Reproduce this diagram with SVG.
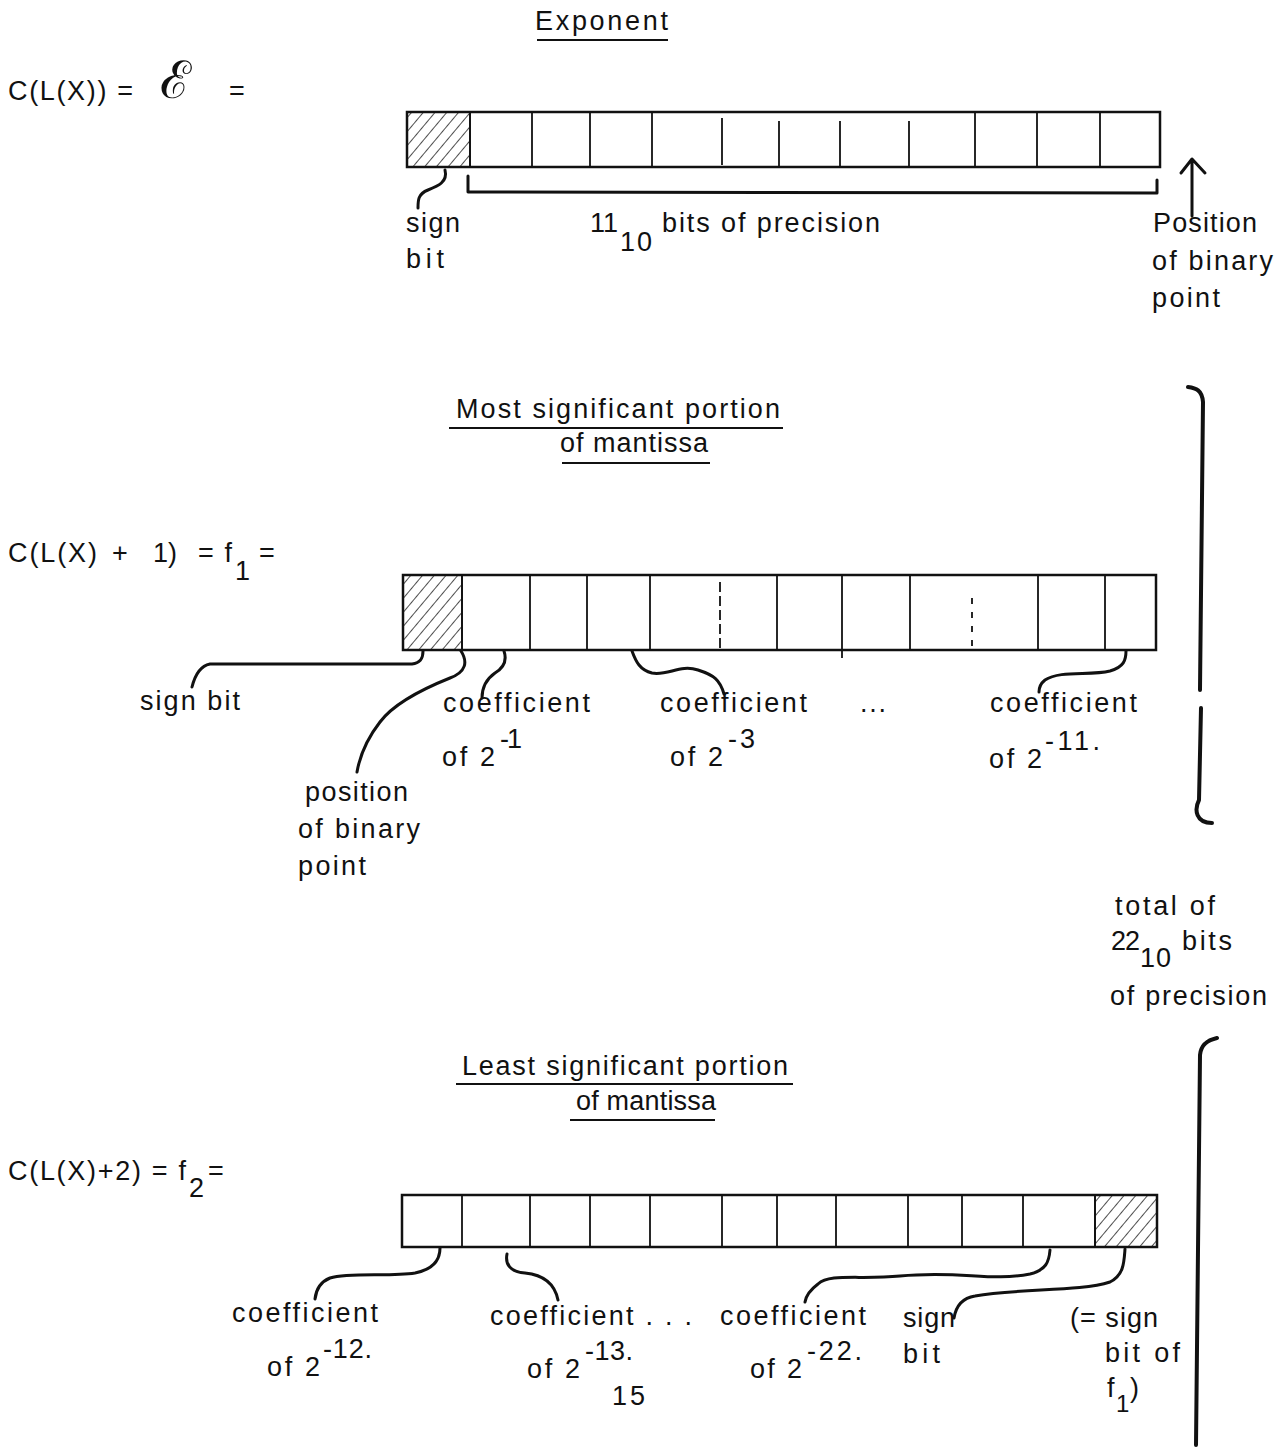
<svg xmlns="http://www.w3.org/2000/svg" width="1283" height="1448" viewBox="0 0 1283 1448">
<defs>
<pattern id="hatch" patternUnits="userSpaceOnUse" width="9" height="9" patternTransform="rotate(40)">
<line x1="0" y1="0" x2="0" y2="9" stroke="#222" stroke-width="1.6"/>
</pattern>
</defs>
<style>
text{font-family:"Liberation Sans",Arial,sans-serif;font-size:27px;fill:#111}
.reg{fill:none;stroke:#111;stroke-width:2.5}
.div{stroke:#111;stroke-width:1.8}
.lead{fill:none;stroke:#111;stroke-width:3;stroke-linecap:round;stroke-linejoin:round}
.brace{fill:none;stroke:#111;stroke-width:4;stroke-linecap:round;stroke-linejoin:round}
.ul{stroke:#111;stroke-width:1.8}
.hat{fill:url(#hatch);stroke:#111;stroke-width:1.8}
</style>
<rect width="1283" height="1448" fill="#fff"/>

<!-- Titles -->
<g id="title-exponent">
<text x="535" y="30" textLength="133" lengthAdjust="spacing">Exponent</text>
<line class="ul" x1="537" y1="40" x2="668" y2="40"/>
</g>
<g id="title-msp">
<text x="456" y="418" textLength="324" lengthAdjust="spacing">Most significant portion</text>
<line class="ul" x1="449" y1="428" x2="783" y2="428"/>
<text x="560" y="452" textLength="148" lengthAdjust="spacing">of mantissa</text>
<line class="ul" x1="562" y1="463" x2="710" y2="463"/>
</g>
<g id="title-lsp">
<text x="462" y="1075" textLength="326" lengthAdjust="spacing">Least significant portion</text>
<line class="ul" x1="456" y1="1084" x2="793" y2="1084"/>
<text x="576" y="1110" textLength="140" lengthAdjust="spacing">of mantissa</text>
<line class="ul" x1="570" y1="1120" x2="715" y2="1120"/>
</g>

<!-- Left equations -->
<g id="eq-exponent">
<text x="8" y="100" textLength="125" lengthAdjust="spacing">C(L(X)) =</text>
<text x="160" y="98" style="font-family:'DejaVu Serif','Liberation Serif',serif;font-size:52px">ℰ</text>
<text x="229" y="100">=</text>
</g>
<g id="eq-f1">
<text x="8" y="562" textLength="89" lengthAdjust="spacing">C(L(X)</text>
<text x="112" y="562">+</text>
<text x="153" y="562" textLength="24" lengthAdjust="spacing">1)</text>
<text x="198" y="562" textLength="34" lengthAdjust="spacing">= f</text>
<text x="235" y="580">1</text>
<text x="259" y="562">=</text>
</g>
<g id="eq-f2">
<text x="8" y="1180" textLength="178" lengthAdjust="spacing">C(L(X)+2) = f</text>
<text x="189" y="1197">2</text>
<text x="208" y="1180">=</text>
</g>

<!-- Register 1: exponent -->
<g id="reg-exponent">
<rect class="hat" x="407" y="112" width="63" height="55"/>
<rect class="reg" x="407" y="112" width="753" height="55"/>
<line class="div" x1="470" y1="112" x2="470" y2="167"/>
<line class="div" x1="532" y1="112" x2="532" y2="167"/>
<line class="div" x1="590" y1="112" x2="590" y2="167"/>
<line class="div" x1="652" y1="112" x2="652" y2="167"/>
<line class="div" x1="722" y1="118" x2="722" y2="165"/>
<line class="div" x1="779" y1="121" x2="779" y2="167"/>
<line class="div" x1="840" y1="121" x2="840" y2="167"/>
<line class="div" x1="909" y1="121" x2="909" y2="167"/>
<line class="div" x1="975" y1="112" x2="975" y2="167"/>
<line class="div" x1="1037" y1="112" x2="1037" y2="167"/>
<line class="div" x1="1100" y1="112" x2="1100" y2="167"/>
</g>

<!-- Register 2: most significant -->
<g id="reg-f1">
<rect class="hat" x="403" y="575" width="59" height="75"/>
<rect class="reg" x="403" y="575" width="753" height="75"/>
<line class="div" x1="462" y1="575" x2="462" y2="650"/>
<line class="div" x1="530" y1="575" x2="530" y2="650"/>
<line class="div" x1="587" y1="575" x2="587" y2="650"/>
<line class="div" x1="650" y1="575" x2="650" y2="650"/>
<line class="div" x1="720" y1="582" x2="720" y2="648" stroke-dasharray="10 4"/>
<line class="div" x1="777" y1="575" x2="777" y2="650"/>
<line class="div" x1="842" y1="575" x2="842" y2="658"/>
<line class="div" x1="910" y1="575" x2="910" y2="650"/>
<line class="div" x1="972" y1="598" x2="972" y2="648" stroke-dasharray="6 8"/>
<line class="div" x1="1038" y1="575" x2="1038" y2="650"/>
<line class="div" x1="1105" y1="575" x2="1105" y2="650"/>
</g>

<!-- Register 3: least significant -->
<g id="reg-f2">
<rect class="hat" x="1095" y="1195" width="62" height="52"/>
<rect class="reg" x="402" y="1195" width="755" height="52"/>
<line class="div" x1="462" y1="1195" x2="462" y2="1247"/>
<line class="div" x1="530" y1="1195" x2="530" y2="1247"/>
<line class="div" x1="590" y1="1195" x2="590" y2="1247"/>
<line class="div" x1="650" y1="1195" x2="650" y2="1247"/>
<line class="div" x1="722" y1="1195" x2="722" y2="1247"/>
<line class="div" x1="777" y1="1195" x2="777" y2="1247"/>
<line class="div" x1="836" y1="1195" x2="836" y2="1247"/>
<line class="div" x1="908" y1="1195" x2="908" y2="1247"/>
<line class="div" x1="962" y1="1195" x2="962" y2="1247"/>
<line class="div" x1="1023" y1="1195" x2="1023" y2="1247"/>
<line class="div" x1="1095" y1="1195" x2="1095" y2="1247"/>
</g>

<!-- Labels for register 1 -->
<g id="lbl-exp-sign">
<text x="406" y="232" textLength="54" lengthAdjust="spacing">sign</text>
<text x="406" y="268" textLength="38" lengthAdjust="spacing">bit</text>
</g>
<g id="lbl-exp-precision">
<text x="590" y="232" textLength="28" lengthAdjust="spacing">11</text>
<text x="620" y="251" textLength="32" lengthAdjust="spacing">10</text>
<text x="662" y="232" textLength="218" lengthAdjust="spacing">bits of precision</text>
</g>
<g id="lbl-exp-point">
<text x="1153" y="232" textLength="104" lengthAdjust="spacing">Position</text>
<text x="1152" y="270" textLength="121" lengthAdjust="spacing">of binary</text>
<text x="1152" y="307" textLength="68" lengthAdjust="spacing">point</text>
</g>

<!-- Labels for register 2 -->
<g id="lbl-f1-sign"><text x="140" y="710" textLength="100" lengthAdjust="spacing">sign bit</text></g>
<g id="lbl-f1-point">
<text x="305" y="801" textLength="103" lengthAdjust="spacing">position</text>
<text x="298" y="838" textLength="122" lengthAdjust="spacing">of binary</text>
<text x="298" y="875" textLength="68" lengthAdjust="spacing">point</text>
</g>
<g id="lbl-f1-c1">
<text x="443" y="712" textLength="147" lengthAdjust="spacing">coefficient</text>
<text x="442" y="766" textLength="53" lengthAdjust="spacing">of 2</text>
<text x="500" y="748" textLength="22" lengthAdjust="spacing">-1</text>
</g>
<g id="lbl-f1-c3">
<text x="660" y="712" textLength="147" lengthAdjust="spacing">coefficient</text>
<text x="670" y="766" textLength="53" lengthAdjust="spacing">of 2</text>
<text x="728" y="748" textLength="27" lengthAdjust="spacing">-3</text>
</g>
<g id="lbl-f1-dots"><text x="860" y="712" textLength="26" lengthAdjust="spacing">...</text></g>
<g id="lbl-f1-c11">
<text x="990" y="712" textLength="147" lengthAdjust="spacing">coefficient</text>
<text x="989" y="768" textLength="53" lengthAdjust="spacing">of 2</text>
<text x="1045" y="750" textLength="55" lengthAdjust="spacing">-11.</text>
</g>

<!-- Total label -->
<g id="lbl-total">
<text x="1115" y="915" textLength="100" lengthAdjust="spacing">total of</text>
<text x="1111" y="950" textLength="29" lengthAdjust="spacing">22</text>
<text x="1140" y="967" textLength="31" lengthAdjust="spacing">10</text>
<text x="1182" y="950" textLength="50" lengthAdjust="spacing">bits</text>
<text x="1110" y="1005" textLength="157" lengthAdjust="spacing">of precision</text>
</g>

<!-- Labels for register 3 -->
<g id="lbl-f2-c12">
<text x="232" y="1322" textLength="146" lengthAdjust="spacing">coefficient</text>
<text x="267" y="1376" textLength="53" lengthAdjust="spacing">of 2</text>
<text x="323" y="1358" textLength="49" lengthAdjust="spacing">-12.</text>
</g>
<g id="lbl-f2-c13">
<text x="490" y="1325" textLength="202" lengthAdjust="spacing">coefficient . . .</text>
<text x="527" y="1378" textLength="53" lengthAdjust="spacing">of 2</text>
<text x="585" y="1360" textLength="48" lengthAdjust="spacing">-13.</text>
<text x="612" y="1405" textLength="33" lengthAdjust="spacing">15</text>
</g>
<g id="lbl-f2-c22">
<text x="720" y="1325" textLength="146" lengthAdjust="spacing">coefficient</text>
<text x="750" y="1378" textLength="52" lengthAdjust="spacing">of 2</text>
<text x="807" y="1360" textLength="55" lengthAdjust="spacing">-22.</text>
</g>
<g id="lbl-f2-sign">
<text x="903" y="1327" textLength="52" lengthAdjust="spacing">sign</text>
<text x="903" y="1363" textLength="37" lengthAdjust="spacing">bit</text>
</g>
<g id="lbl-f2-eqsign">
<text x="1070" y="1327" textLength="88" lengthAdjust="spacing">(= sign</text>
<text x="1105" y="1362" textLength="75" lengthAdjust="spacing">bit of</text>
<text x="1107" y="1397">f</text>
<text x="1116" y="1412" style="font-size:24px">1</text>
<text x="1130" y="1397">)</text>
</g>

<!-- Connectors -->
<g id="connectors">
<!-- register 1 -->
<path class="lead" d="M445,170 C448,182 438,186 428,190 C418,194 418,200 418,208"/>
<path class="lead" d="M468,176 L468,192 L1157,193 L1157,180"/>
<path class="lead" d="M1192,216 L1192,160 M1181,173 L1192,159 L1205,173"/>
<!-- register 2 -->
<path class="lead" d="M423,651 C423,658 421,663 412,664 L210,664 C200,666 195,675 192,687"/>
<path class="lead" d="M461,651 C468,662 466,672 450,678 C425,688 395,702 380,722 C366,740 360,755 357,772"/>
<path class="lead" d="M504,651 C507,660 505,667 495,673 C485,680 482,688 482,698"/>
<path class="lead" d="M632,651 C636,662 640,670 652,673 C668,676 680,664 698,670 C714,675 720,680 724,694"/>
<path class="lead" d="M1126,651 C1126,660 1124,667 1110,671 C1090,676 1060,670 1045,680 C1040,684 1039,688 1039,692"/>
<!-- register 3 -->
<path class="lead" d="M440,1248 C440,1262 430,1270 415,1273 C390,1277 350,1272 330,1278 C320,1282 316,1290 315,1299"/>
<path class="lead" d="M507,1254 C505,1264 510,1272 525,1273 C545,1275 555,1285 558,1300"/>
<path class="lead" d="M1050,1250 C1049,1262 1046,1270 1030,1274 C990,1282 960,1270 900,1276 C860,1280 830,1273 818,1284 C810,1290 806,1296 805,1302"/>
<path class="lead" d="M1125,1249 C1124,1262 1124,1275 1110,1282 C1080,1292 1020,1288 975,1296 C962,1298 956,1306 954,1318"/>
<!-- right braces -->
<path class="brace" d="M1188,387 C1196,388 1202,390 1203,402 L1200,690"/>
<path class="brace" d="M1201,708 L1199,800 C1194,810 1196,823 1212,823"/>
<path class="brace" d="M1217,1038 C1208,1040 1201,1044 1200,1055 L1196,1445"/>
</g>
</svg>
